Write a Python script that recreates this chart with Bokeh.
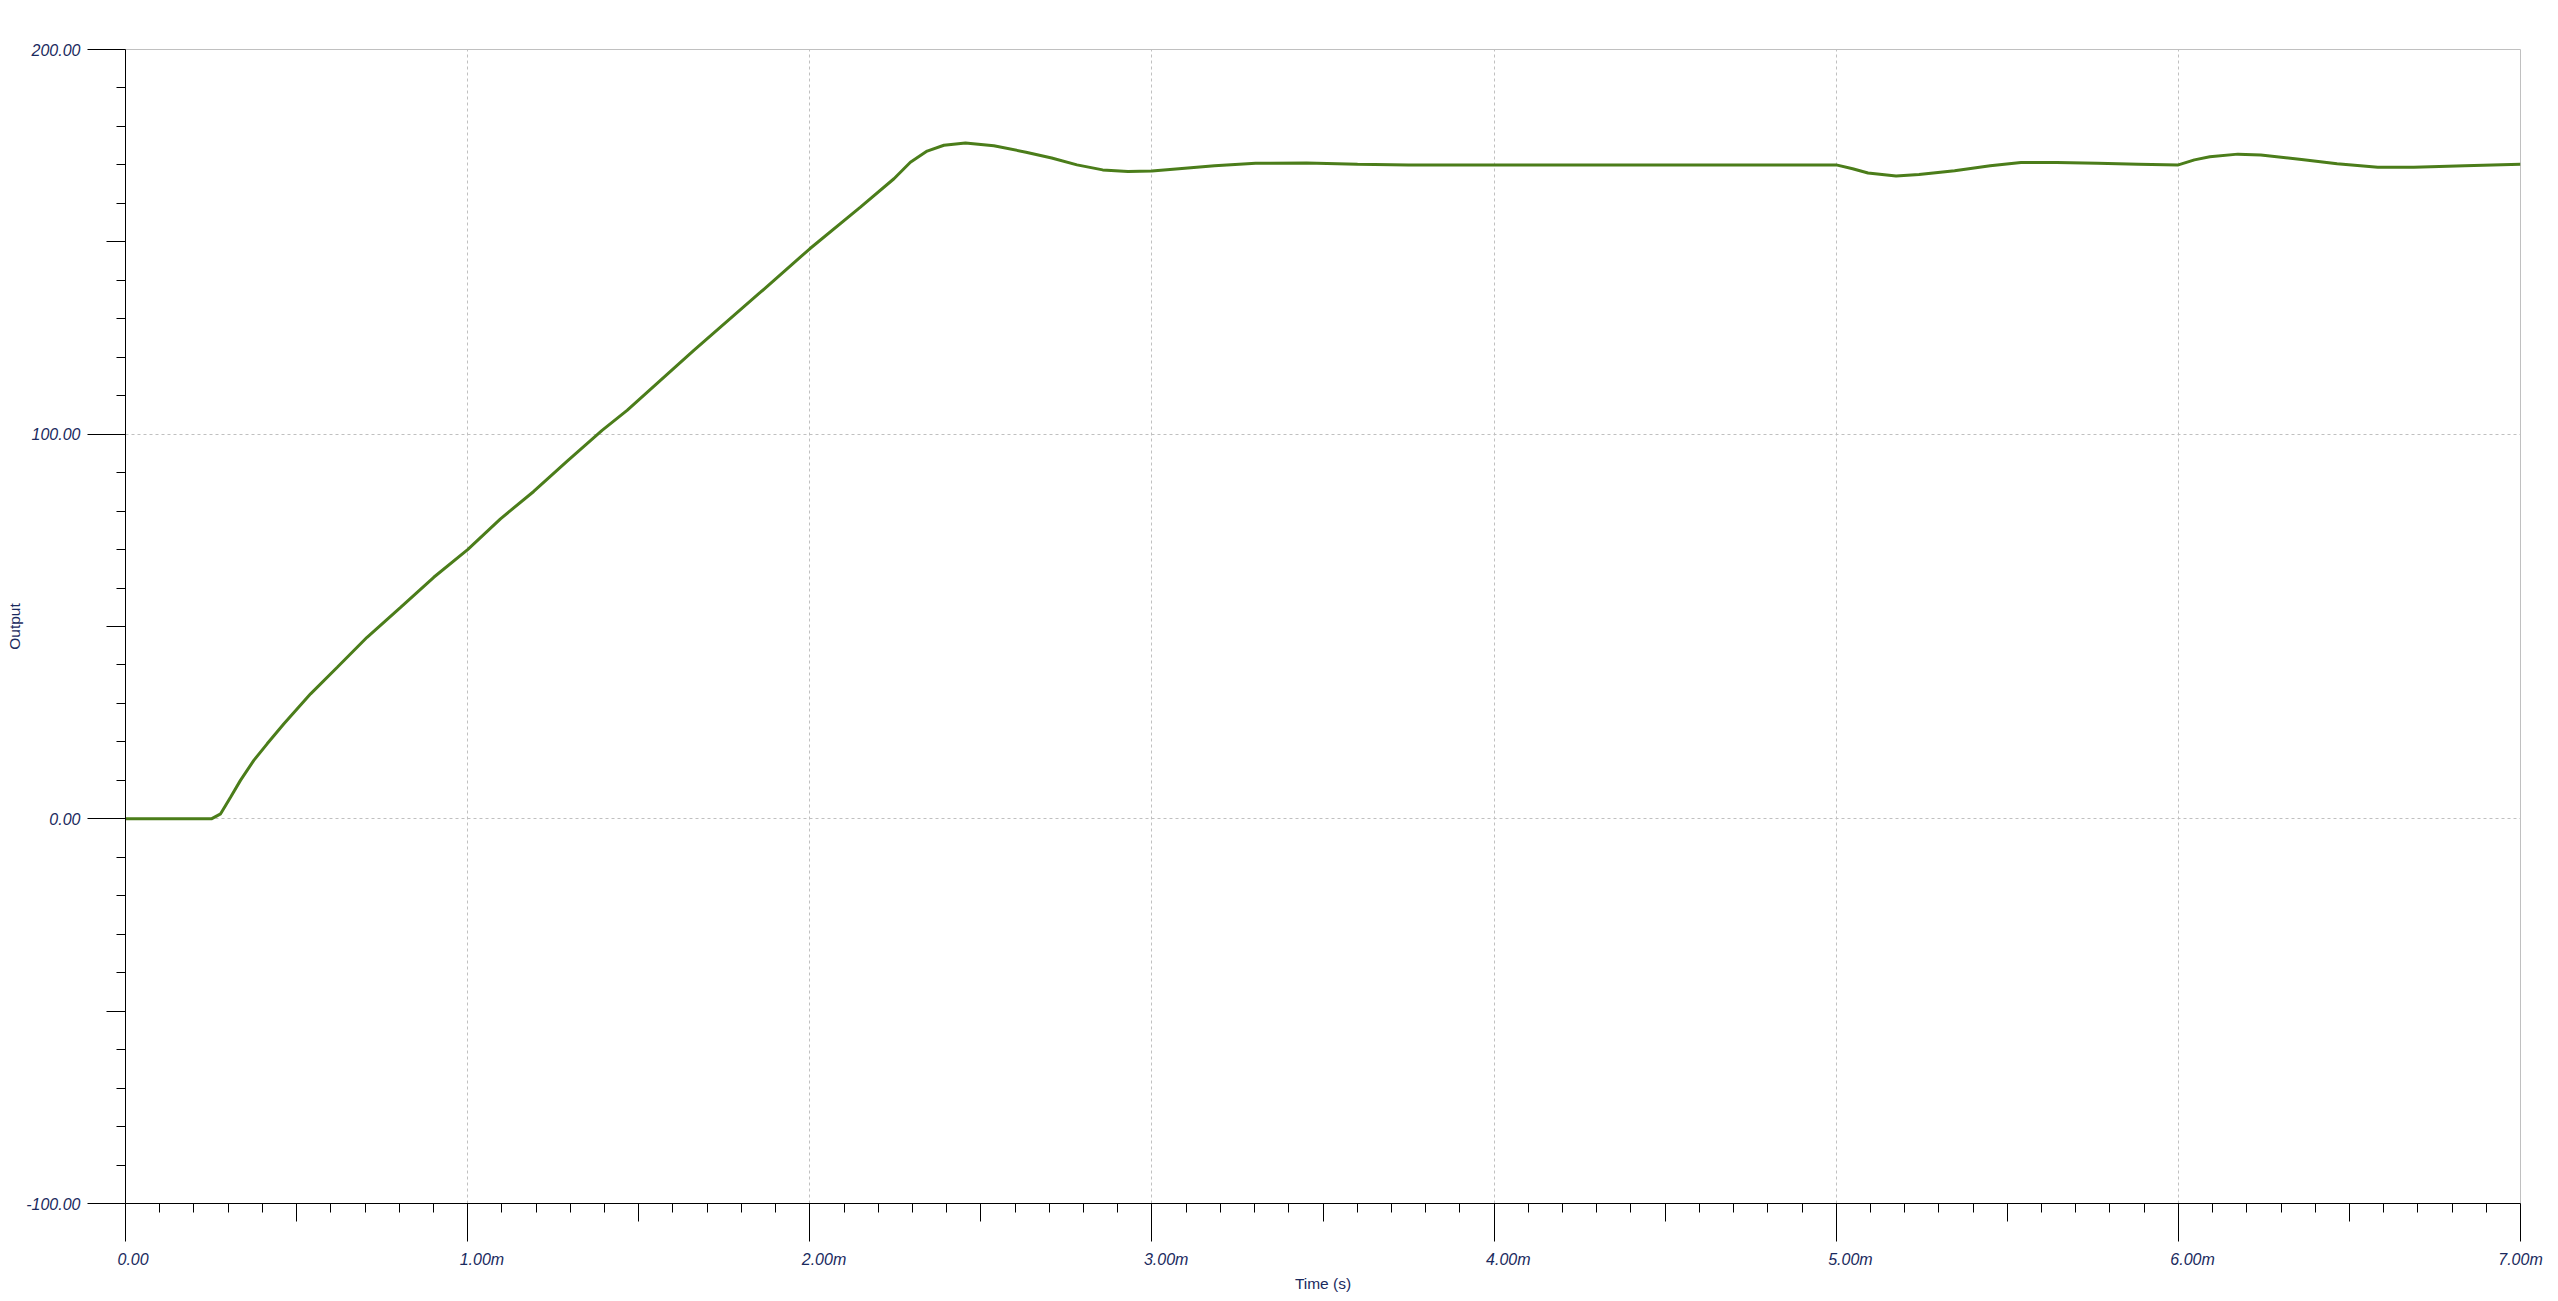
from bokeh.plotting import figure
from bokeh.models import FixedTicker, Range1d, LinearAxis
from bokeh.embed import file_html
from bokeh.resources import INLINE

# ---- data (time in ms, labelled as "m" seconds) ----
time_ms = [0.0, 0.251, 0.278, 0.307, 0.336, 0.375, 0.414, 0.463, 0.541, 0.619, 0.706,
           0.804, 0.901, 1.000, 1.096, 1.193, 1.291, 1.393, 1.466, 1.661, 1.856, 2.000,
           2.148, 2.246, 2.294, 2.343, 2.392, 2.455, 2.538, 2.632, 2.707, 2.781, 2.856,
           2.930, 3.000, 3.079, 3.183, 3.303, 3.452, 3.601, 3.750, 5.000, 5.048, 5.093,
           5.175, 5.242, 5.346, 5.450, 5.540, 5.644, 5.764, 5.883, 6.000, 6.047, 6.092,
           6.174, 6.241, 6.360, 6.464, 6.583, 6.688, 6.837, 7.000]
output = [0.0, 0.0, 1.3, 5.6, 10.0, 15.2, 19.5, 24.7, 32.5, 39.4, 47.2,
          55.0, 62.8, 70.0, 78.0, 85.1, 93.0, 101.0, 106.2, 121.8, 136.9, 148.2,
          159.0, 166.4, 170.7, 173.6, 175.1, 175.7, 175.0, 173.3, 171.8, 170.0, 168.7,
          168.3, 168.4, 169.0, 169.8, 170.4, 170.5, 170.2, 170.0, 170.0, 169.0, 167.9,
          167.1, 167.5, 168.5, 169.8, 170.6, 170.6, 170.4, 170.2, 170.0, 171.3, 172.1,
          172.8, 172.6, 171.4, 170.3, 169.4, 169.4, 169.8, 170.2]

x_ticks = [0, 1, 2, 3, 4, 5, 6, 7]
x_tick_labels = ["0.00", "1.00m", "2.00m", "3.00m", "4.00m", "5.00m", "6.00m", "7.00m"]
y_ticks = [-100, 0, 100, 200]
y_tick_labels = ["-100.00", "0.00", "100.00", "200.00"]
x_mid_ticks = [0.5, 1.5, 2.5, 3.5, 4.5, 5.5, 6.5]
y_mid_ticks = [-50, 50, 150]

FRAME_W, FRAME_H = 2395, 1154
XMIN, XMAX, YMIN, YMAX = 0, 7, -100, 200
LABEL_COLOR = "#1a2a5e"
FONT = "Liberation Sans"
TICK_FONT_PX = 16
MAJOR_LEN, MID_LEN_X, MID_LEN_Y, MINOR_LEN = 38, 18, 19, 9

# x numbers start slightly left of their tick: shift centred text by (w/2 - 8 px)
CHAR_EM = {".": 0.278, "m": 0.833, "-": 0.333}
px_per_unit = FRAME_W / (XMAX - XMIN)


def text_w(s):
    return sum(CHAR_EM.get(c, 0.556) for c in s) * TICK_FONT_PX


shifts = [text_w(s) / 2 - 8 for s in x_tick_labels]

p = figure(frame_width=FRAME_W, frame_height=FRAME_H,
           x_range=Range1d(XMIN, XMAX), y_range=Range1d(YMIN, YMAX),
           output_backend="svg", toolbar_location=None,
           min_border_left=125, min_border_top=49, min_border_right=38,
           min_border_bottom=95, background_fill_color="white",
           border_fill_color="white")
p.extra_x_ranges = {"px": Range1d(0, FRAME_W)}

p.outline_line_color = "#c0c0c0"
p.outline_line_width = 1

p.line(time_ms, output, line_color="#4b7d1a", line_width=3)

x_minor = [i / 10 for i in range(0, 71) if i % 10 != 0]
y_minor = [v for v in range(-100, 201, 10) if v % 100 != 0]


def style_axis(ax, line=True):
    ax.axis_line_color = "black" if line else None
    ax.axis_line_width = 1
    ax.major_tick_line_color = "black"
    ax.minor_tick_line_color = "black"
    ax.major_tick_in = 0
    ax.minor_tick_in = 0
    ax.minor_tick_out = 0
    ax.major_label_text_font = FONT
    ax.major_label_text_font_style = "italic"
    ax.major_label_text_font_size = f"{TICK_FONT_PX}px"
    ax.major_label_text_color = LABEL_COLOR
    ax.axis_label_text_font = FONT
    ax.axis_label_text_font_style = "normal"
    ax.axis_label_text_font_size = "15.5px"
    ax.axis_label_text_color = LABEL_COLOR


def hide_labels(ax, ticks):
    ax.major_label_overrides = {t: "" for t in ticks}
    ax.major_label_text_font_size = "0px"
    ax.major_label_standoff = 0


# --- inner axes (next to the frame): axis line, minor ticks, half-division ticks
for ax, mids, minor, mid_len in ((p.xaxis[0], x_mid_ticks, x_minor, MID_LEN_X),
                                 (p.yaxis[0], y_mid_ticks, y_minor, MID_LEN_Y)):
    style_axis(ax)
    ax.ticker = FixedTicker(ticks=mids, minor_ticks=minor)
    ax.major_tick_out = mid_len
    ax.minor_tick_out = MINOR_LEN
    hide_labels(ax, mids)

# --- y: outer axis with the long major ticks (reaching back to the frame) + labels
y_major = LinearAxis()
style_axis(y_major, line=False)
y_major.ticker = FixedTicker(ticks=y_ticks, minor_ticks=[])
y_major.major_tick_in = MID_LEN_Y
y_major.major_tick_out = MAJOR_LEN - MID_LEN_Y
y_major.major_label_overrides = {t: l for t, l in zip(y_ticks, y_tick_labels)}
y_major.major_label_standoff = 7
y_major.axis_label = "Output"
y_major.axis_label_standoff = 0
p.add_layout(y_major, "left")

# --- x: outer axis with the long major ticks
x_major = LinearAxis()
style_axis(x_major, line=False)
x_major.ticker = FixedTicker(ticks=x_ticks, minor_ticks=[])
x_major.major_tick_in = MID_LEN_X
x_major.major_tick_out = MAJOR_LEN - MID_LEN_X
hide_labels(x_major, x_ticks)
p.add_layout(x_major, "below")

# --- x: tick numbers on a pixel-scaled range (anchors kept inside the frame)
lab_px = [round(min((t - XMIN) * px_per_unit + sh, FRAME_W), 1)
          for t, sh in zip(x_ticks, shifts)]
x_lab = LinearAxis(x_range_name="px")
style_axis(x_lab, line=False)
x_lab.major_tick_line_color = None
x_lab.minor_tick_line_color = None
x_lab.major_tick_out = 0
x_lab.ticker = FixedTicker(ticks=lab_px, minor_ticks=[])
x_lab.major_label_overrides = {pos: s for pos, s in zip(lab_px, x_tick_labels)}
x_lab.major_label_standoff = 9
x_lab.axis_label = "Time (s)"
x_lab.axis_label_standoff = 4
p.add_layout(x_lab, "below")

for g, ticks in ((p.xgrid[0], x_ticks), (p.ygrid[0], y_ticks)):
    g.ticker = FixedTicker(ticks=ticks)
    g.grid_line_color = "#c0c0c0"
    g.grid_line_dash = "3 3"
    g.grid_line_width = 1

open("out.html", "w").write(file_html(p, INLINE))
